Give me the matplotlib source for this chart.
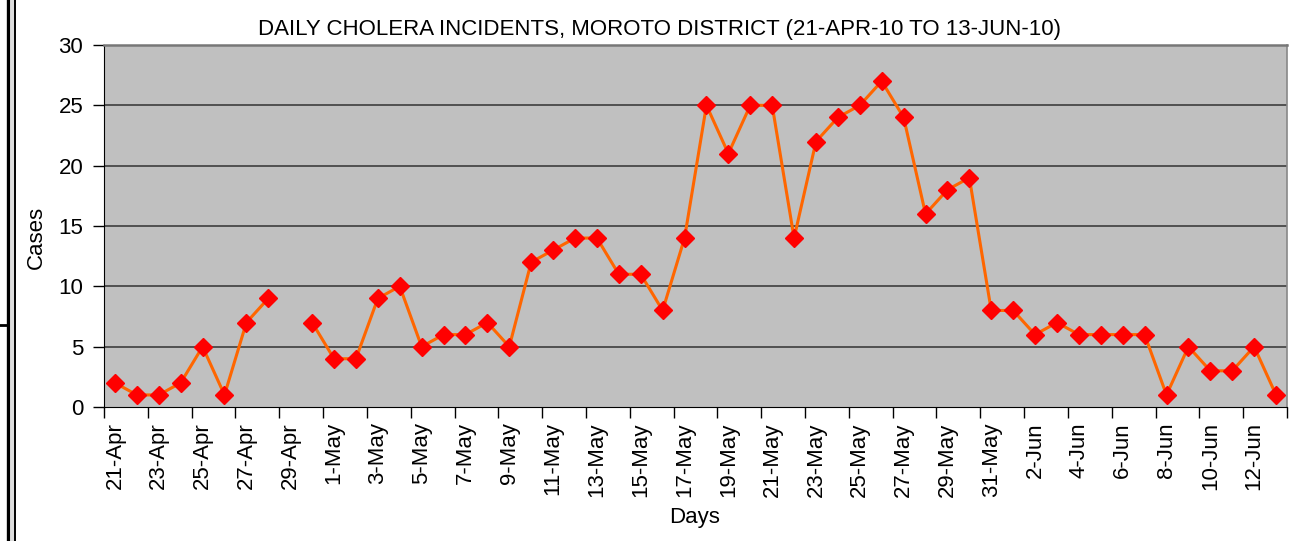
import numpy as np
import pandas as pd
import matplotlib
matplotlib.use("Agg")
import matplotlib.pyplot as plt
from matplotlib.lines import Line2D

days = pd.date_range("2010-04-21", "2010-06-13", freq="D")
day_labels = [f"{d.day}-{d.strftime('%b')}" for d in days]

# cases per day, 29-Apr has no record
cases = [2, 1, 1, 2, 5, 1, 7, 9, np.nan, 7,
         4, 4, 9, 10, 5, 6, 6, 7, 5, 12,
         13, 14, 14, 11, 11, 8, 14, 25, 21, 25,
         25, 14, 22, 24, 25, 27, 24, 16, 18, 19,
         8, 8, 6, 7, 6, 6, 6, 6, 1, 5,
         3, 3, 5, 1]

plt.rcParams['font.family'] = ['Liberation Sans', 'DejaVu Sans']
plt.rcParams['font.size'] = 16

fig = plt.figure(figsize=(13.04, 5.41), dpi=100)
ax = fig.add_axes([104 / 1304, 1 - 407 / 541, (1287 - 104) / 1304, (407 - 45) / 541])
ax.set_facecolor('#c0c0c0')

x = np.arange(len(cases))
ax.plot(x, cases, color='#ff6600', lw=2.2, marker='D', ms=9,
        mfc='#ff0000', mec='#ff0000', zorder=3)

ax.set_xlim(-0.5, len(cases) - 0.5)
ax.set_ylim(0, 30)
ax.set_yticks(range(0, 31, 5))
for v in range(5, 30, 5):
    ax.axhline(v, color='#333333', lw=1.1, zorder=1)

ax.set_xticks(np.arange(-0.5, len(cases), 2))
ax.set_xticklabels([])
ax.set_xticks(x[::2], minor=True)
ax.set_xticklabels(day_labels[::2], minor=True, rotation=90)
ax.tick_params(axis='x', which='major', length=8, width=1, color='black')
ax.tick_params(axis='x', which='minor', length=0, pad=11)
ax.tick_params(axis='y', length=8, width=1, pad=7)

ax.spines['top'].set_color('#777777')
ax.spines['top'].set_linewidth(1.8)
ax.spines['right'].set_color('#888888')
ax.spines['right'].set_linewidth(1.2)
ax.spines['left'].set_color('black')
ax.spines['bottom'].set_color('black')

ax.set_ylabel('Cases')
ax.set_xlabel('Days')
ax.xaxis.set_label_coords((695 - 104) / (1287 - 104), -(507 - 407) / (407 - 45))
ax.yaxis.set_label_coords(-(104 - 47) / (1287 - 104), (407 - 237) / (407 - 45))

fig.text(659 / 1304, 1 - 30 / 541, 'DAILY CHOLERA INCIDENTS, MOROTO DISTRICT (21-APR-10 TO 13-JUN-10)',
         ha='center', va='center', fontsize=16)

# window edge at the left of the screenshot
fig.add_artist(Line2D([7.5 / 1304, 7.5 / 1304], [0, 1], color='black', lw=2.4))
fig.add_artist(Line2D([12 / 1304, 12 / 1304], [0, 1], color='#dddddd', lw=2.4))
fig.add_artist(Line2D([15 / 1304, 15 / 1304], [0, 1], color='black', lw=1.4))
fig.add_artist(Line2D([0, 7 / 1304], [1 - 325 / 541, 1 - 325 / 541], color='black', lw=2))

fig.savefig('out.png', dpi=100)
